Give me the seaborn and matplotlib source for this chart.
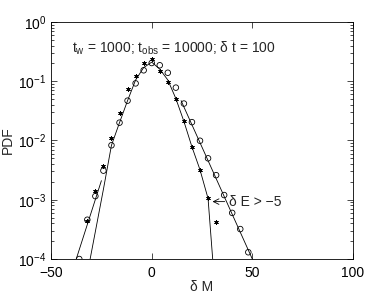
import numpy as np
import pandas as pd
import matplotlib
matplotlib.use('Agg')
import matplotlib.pyplot as plt
from matplotlib.ticker import NullLocator, LogLocator
import seaborn as sns

sns.set_style('ticks')
plt.rcParams['font.family'] = ['Liberation Sans', 'DejaVu Sans']
plt.rcParams['mathtext.fontset'] = 'custom'
plt.rcParams['mathtext.rm'] = 'Liberation Sans'
plt.rcParams['mathtext.default'] = 'regular'


# histogram bins (delta M) and measured PDFs
bins = [-36, -32, -28, -24, -20, -16, -12, -8, -4, 0, 4, 8,
        12, 16, 20, 24, 28, 32, 36, 40, 44, 48]
pdf_all = [1.0e-4, 4.6e-4, 1.15e-3, 3.1e-3, 8.3e-3, 2.0e-2, 4.7e-2, 9.2e-2,
           0.153, 0.203, 0.186, 0.139, 0.078, 0.042, 0.0204, 0.0099,
           5.0e-3, 2.6e-3, 1.2e-3, 6.0e-4, 3.2e-4, 1.3e-4]

bins_cut = [-32, -28, -24, -20, -16, -12, -8, -4, 0, 4, 8,
            12, 16, 20, 24, 28, 32]
pdf_cut = [4.3e-4, 1.4e-3, 3.7e-3, 1.1e-2, 2.95e-2, 7.5e-2, 0.121, 0.201,
           0.235, 0.149, 0.098, 0.051, 0.0215, 7.8e-3, 3.2e-3, 1.06e-3, 4.2e-4]

# fitted curve
fit_x = [-30.6, -24, -20, -16, -12, -8, -4, 0, 4, 8, 12, 16, 20, 24, 28, 30.3]
fit_pdf = [1.0e-4, 1.5e-3, 8.3e-3, 2.0e-2, 4.7e-2, 0.105, 0.17, 0.21,
           0.16, 0.105, 0.051, 0.021, 7.8e-3, 3.2e-3, 1.05e-3, 1.0e-4]

# exponential tails
tail_left_x = [-37.5, -25]
tail_left_pdf = [1.0e-4, 2.1e-3]
tail_right_x = [14.6, 50]
tail_right_pdf = [4.7e-2, 1.0e-4]


fig = plt.figure(figsize=(3.9, 2.93), dpi=100)
ax = fig.add_axes([0.131, 0.116, 0.774, 0.809])

line_kw = dict(color='k', linewidth=0.6, estimator=None, sort=False, ax=ax)
sns.lineplot(x=fit_x, y=fit_pdf, **line_kw)
sns.lineplot(x=tail_left_x, y=tail_left_pdf, **line_kw)
sns.lineplot(x=tail_right_x, y=tail_right_pdf, **line_kw)

sns.scatterplot(x=bins, y=pdf_all, marker='o', facecolor='none',
                edgecolor='k', linewidth=0.6, s=16, ax=ax, zorder=3)
sns.scatterplot(x=bins_cut, y=pdf_cut, marker=(6, 2, 0), color='k',
                linewidth=0.6, s=8, ax=ax, zorder=3)

ax.set_yscale('log')
ax.set_xlim(-50, 100)
ax.set_ylim(1e-4, 1)
ax.set_xticks([-50, 0, 50, 100])
ax.xaxis.set_minor_locator(NullLocator())
ax.yaxis.set_minor_locator(LogLocator(subs=np.arange(2, 10)))

ax.tick_params(direction='in', top=True, right=True, which='both',
               labelsize=10, width=0.5, colors='k')
ax.tick_params(which='major', length=4)
ax.tick_params(which='minor', length=2)
ax.tick_params(axis='x', pad=5)
for s in ax.spines.values():
    s.set_linewidth(0.6)
    s.set_color('k')

ax.set_xlabel('δ M', fontsize=10, labelpad=0)
ax.set_ylabel('PDF', fontsize=10, labelpad=2)

ax.text(-39.5, 0.31, r'$t_w$ = 1000; $t_{obs}$ = 10000; δ t = 100',
        fontsize=10, ha='left', va='baseline')
ax.annotate('δ E > −5', xy=(30.2, 9.3e-4), xytext=(38.6, 9.3e-4),
            fontsize=10, ha='left', va='center',
            arrowprops=dict(arrowstyle='->', lw=0.6, color='k',
                            shrinkA=1, shrinkB=0))

fig.savefig('out.png', dpi=100)
